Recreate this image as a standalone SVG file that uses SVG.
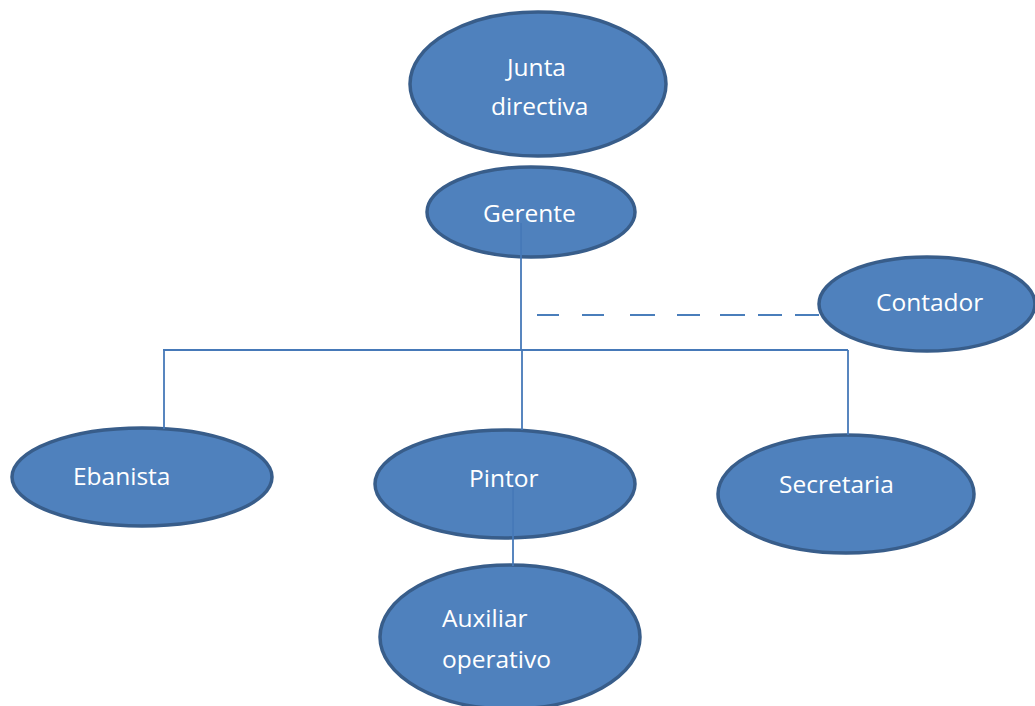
<svg xmlns="http://www.w3.org/2000/svg" width="1035" height="706" viewBox="0 0 1035 706">
  <style>
    .node ellipse { fill: #4F81BD; stroke: #385D8A; stroke-width: 3.5; }
    .node text { fill: #FFFFFF; font-family: "Open Sans", "Noto Sans", sans-serif; font-size: 24.5px; }
    .link { fill: none; stroke: #4679B8; stroke-width: 1.8; }
    .dash { fill: none; stroke: #4A7EBB; stroke-width: 2; }
  </style>
  <rect x="0" y="0" width="1035" height="706" fill="#FFFFFF"/>

  <g id="junta-directiva" class="node">
    <ellipse cx="538" cy="84" rx="128" ry="72"/>
    <text x="507" y="76">Junta</text>
    <text x="491" y="115">directiva</text>
  </g>

  <g id="gerente" class="node">
    <ellipse cx="531" cy="212" rx="104" ry="45"/>
    <text x="483" y="222">Gerente</text>
  </g>

  <g id="contador" class="node">
    <ellipse cx="927" cy="304" rx="108" ry="47"/>
    <text x="876" y="311">Contador</text>
  </g>

  <g id="ebanista" class="node">
    <ellipse cx="142" cy="477" rx="130" ry="49"/>
    <text x="73" y="485">Ebanista</text>
  </g>

  <g id="pintor" class="node">
    <ellipse cx="505" cy="484" rx="130" ry="54"/>
    <text x="469" y="487">Pintor</text>
  </g>

  <g id="secretaria" class="node">
    <ellipse cx="846" cy="494" rx="128" ry="59"/>
    <text x="779" y="493">Secretaria</text>
  </g>

  <g id="auxiliar-operativo" class="node">
    <ellipse cx="510" cy="637" rx="130" ry="72"/>
    <text x="442" y="627">Auxiliar</text>
    <text x="442" y="668">operativo</text>
  </g>

  <g id="connectors">
    <!-- trunk from Gerente down to the branch bar -->
    <path class="link" d="M521 223 V350"/>
    <!-- horizontal branch bar -->
    <path class="link" d="M163 350 H848"/>
    <!-- drops to each position -->
    <path class="link" d="M164 350 V429"/>
    <path class="link" d="M522 350 V430"/>
    <path class="link" d="M848 350 V435"/>
    <!-- Pintor to Auxiliar operativo -->
    <path class="link" d="M513 487 V566"/>
    <!-- advisory (dashed) link to Contador -->
    <path class="dash" d="M537 315 H559 M582 315 H604 M630 315 H655 M677 315 H700 M720 315 H745 M758 315 H782 M795 315 H819"/>
  </g>
</svg>
